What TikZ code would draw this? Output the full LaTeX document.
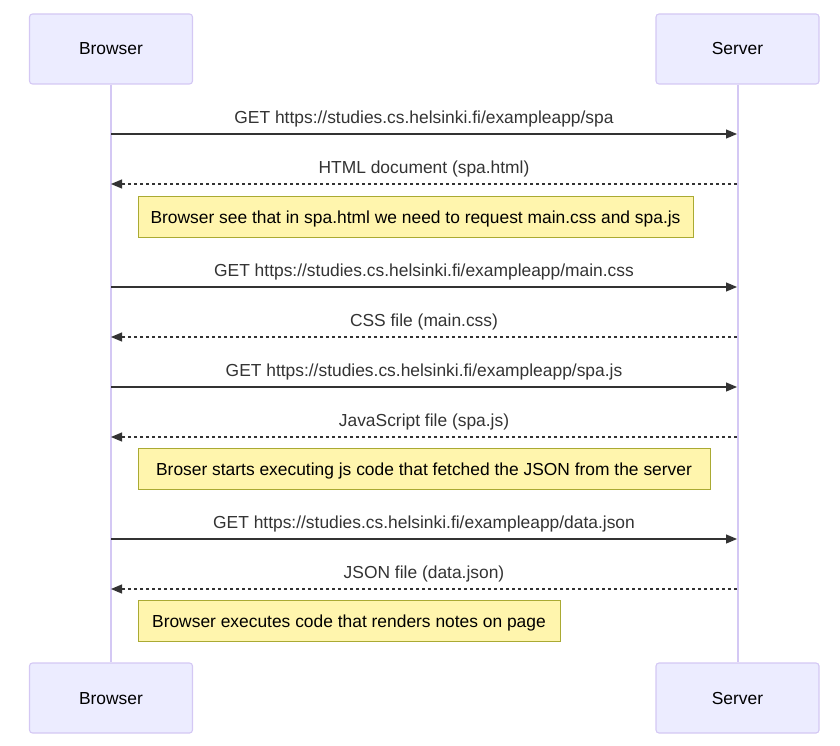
\documentclass[tikz,border=0pt]{standalone}
\usepackage{fontspec}
\setmainfont{Liberation Sans}
\usetikzlibrary{arrows.meta}
\definecolor{actorfill}{HTML}{ECECFF}
\definecolor{actorline}{HTML}{D4C8F4}
\definecolor{notefill}{HTML}{FFF5AD}
\definecolor{noteline}{HTML}{AAAA33}
\definecolor{msgcol}{HTML}{333333}
\tikzset{
  actor/.style={draw=actorline, line width=1.1pt, fill=actorfill, rounded corners=3pt, minimum width=163pt, minimum height=70pt, text height=12pt, text depth=0pt, font=\fontsize{17.4}{21}\selectfont},
  note/.style={draw=noteline, fill=notefill, minimum height=41pt, inner xsep=0pt, text height=13pt, text depth=0pt, font=\fontsize{17.4}{21}\selectfont},
  msg/.style={draw=msgcol, line width=1.2pt, -{Triangle[length=11pt, width=9pt]}},
  reply/.style={msg, dash pattern=on 3pt off 3pt},
  lbl/.style={text=msgcol, text depth=0pt, font=\fontsize{17.4}{21}\selectfont}
}
\begin{document}
\begin{tikzpicture}[x=1pt, y=-1pt]
        \useasboundingbox (0,0) rectangle (840,746);
        \node[actor] (B) at (111,49) {Browser};
        \node[actor] (S) at (737.5,49) {Server};
        \node[actor] (B2) at (111,698) {Browser};
        \node[actor] (S2) at (737.5,698) {Server};

        \draw[actorline, line width=2pt] (B) -- (B2);
        \draw[actorline, line width=2pt] (S) -- (S2);

        \coordinate (b1) at (111,134); \coordinate (s1) at (737,134);
        \coordinate (b2) at (111,184); \coordinate (s2) at (737,184);
        \coordinate (b3) at (111,287); \coordinate (s3) at (737,287);
        \coordinate (b4) at (111,337); \coordinate (s4) at (737,337);
        \coordinate (b5) at (111,387); \coordinate (s5) at (737,387);
        \coordinate (b6) at (111,437); \coordinate (s6) at (737,437);
        \coordinate (b7) at (111,539); \coordinate (s7) at (737,539);
        \coordinate (b8) at (111,589); \coordinate (s8) at (737,589);

        \draw[msg] (b1) -- (s1) node[lbl, midway, above=6.5pt] {GET https://studies.cs.helsinki.fi/exampleapp/spa};
        \draw[reply] (s2) -- (b2) node[lbl, midway, above=6.5pt] {HTML document (spa.html)};
        \node[note, minimum width=555pt] (N1) at (415.5,216.5) {Browser see that in spa.html we need to request main.css and spa.js};
        \draw[msg] (b3) -- (s3) node[lbl, midway, above=6.5pt] {GET https://studies.cs.helsinki.fi/exampleapp/main.css};
        \draw[reply] (s4) -- (b4) node[lbl, midway, above=6.5pt] {CSS file (main.css)};
        \draw[msg] (b5) -- (s5) node[lbl, midway, above=6.5pt] {GET https://studies.cs.helsinki.fi/exampleapp/spa.js};
        \draw[reply] (s6) -- (b6) node[lbl, midway, above=6.5pt] {JavaScript file (spa.js)};
        \node[note, minimum width=572pt] (N2) at (424,468.5) {Broser starts executing js code that fetched the JSON from the server};
        \draw[msg] (b7) -- (s7) node[lbl, midway, above=6.5pt] {GET https://studies.cs.helsinki.fi/exampleapp/data.json};
        \draw[reply] (s8) -- (b8) node[lbl, midway, above=6.5pt] {JSON file (data.json)};
        \node[note, minimum width=422pt] (N3) at (349,620.5) {Browser executes code that renders notes on page};
    \end{tikzpicture}
\end{document}
